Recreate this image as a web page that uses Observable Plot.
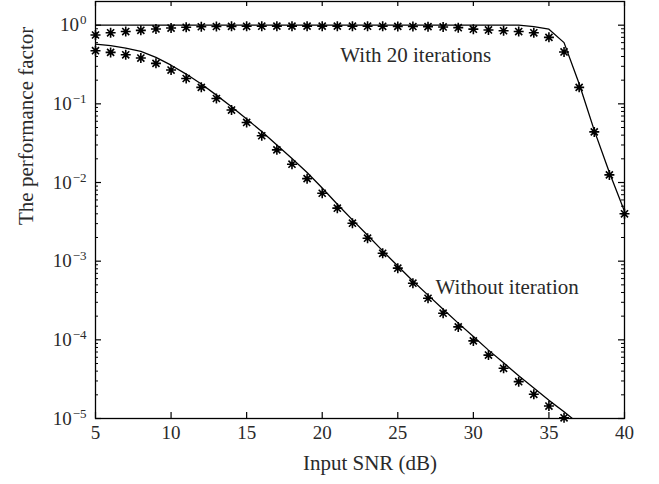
<!DOCTYPE html>
<html>
<head>
<meta charset="utf-8">
<script src="https://cdn.jsdelivr.net/npm/d3@7"></script>
<script src="https://cdn.jsdelivr.net/npm/@observablehq/plot@0.6"></script>
<style>
  html, body { margin: 0; padding: 0; background: #fff; }
  #chart svg { display: block; }
</style>
</head>
<body>
<div id="chart"></div>
<script>
// ---- data ----
const snrMarkersWith = [5,6,7,8,9,10,11,12,13,14,15,16,17,18,19,20,21,22,23,24,25,26,27,28,29,30,31,32,33,34,35,36,37,38,39,40];
const withIterMarkers = [0.75,0.80,0.83,0.86,0.895,0.92,0.94,0.955,0.962,0.966,0.968,0.97,0.972,0.972,0.972,0.972,0.972,0.97,0.97,0.968,0.965,0.962,0.958,0.95,0.93,0.89,0.87,0.85,0.83,0.80,0.70,0.457,0.162,0.044,0.0125,0.0040];

const snrLineWith = [5,10,15,20,25,30,33,34,35,36,37,38,39,40];
const withIterLine = [1.0,1.0,1.0,1.0,1.0,1.0,1.0,0.96,0.89,0.60,0.18,0.046,0.0134,0.0043];

const snrMarkersWithout = [5,6,7,8,9,10,11,12,13,14,15,16,17,18,19,20,21,22,23,24,25,26,27,28,29,30,31,32,33,34,35,36];
const withoutIterMarkers = [0.474,0.451,0.42,0.382,0.327,0.269,0.21,0.162,0.117,0.0834,0.058,0.0393,0.026,0.0171,0.0112,0.0073,0.00472,0.00304,0.00196,0.00126,0.000815,0.000525,0.000338,0.000218,0.000146,0.000097,0.000064,0.0000435,0.0000294,0.0000203,0.0000144,0.0000102];

const snrLineWithout = [5,6,7,8,9,10,11,12,13,14,15,16,17,18,19,20,21,22,23,24,25,26,27,28,29,30,31,32,33,34,35,36,37];
const withoutIterLine = [0.576,0.55,0.51,0.464,0.39,0.31,0.239,0.179,0.129,0.092,0.064,0.0446,0.030,0.0202,0.0134,0.0085,0.0053,0.00335,0.00214,0.00135,0.00087,0.00056,0.00037,0.000245,0.000163,0.00011,0.000074,0.000051,0.000035,0.0000245,0.000017,0.0000122,0.0000085];

const xTicks = [5,10,15,20,25,30,35,40];
const yTicks = [1e-5,1e-4,1e-3,1e-2,1e-1,1];
const yTickExponents = ["−5","−4","−3","−2","−1","0"];
const yMinorTicks = [];
for (const dec of [1e-5,1e-4,1e-3,1e-2,1e-1]) for (let m = 2; m <= 9; m++) yMinorTicks.push(m * dec);

const xLabel = "Input SNR (dB)";
const yLabel = "The performance factor";
const annotations = [
  {x: 21.2, y: 0.343, text: "With 20 iterations"},
  {x: 27.5, y: 3.87e-4, text: "Without iteration"}
];

// ---- build tables ----
const toPts = (xs, ys) => xs.map((x, i) => ({x, y: ys[i]}));
const mWith = toPts(snrMarkersWith, withIterMarkers);
const lWith = toPts(snrLineWith, withIterLine);
const mWithout = toPts(snrMarkersWithout, withoutIterMarkers);
const lWithout = toPts(snrLineWithout, withoutIterLine);

const W = 659, H = 484;
const mL = 95, mR = 35, mT = 1, mB = 66;
const pw = W - mL - mR, ph = H - mT - mB;

const asterisk8 = {
  draw(ctx, size) {
    const r = Math.sqrt(size / Math.PI);
    const d = r * Math.SQRT1_2;
    ctx.moveTo(-r, 0); ctx.lineTo(r, 0);
    ctx.moveTo(0, -r); ctx.lineTo(0, r);
    ctx.moveTo(-d, -d); ctx.lineTo(d, d);
    ctx.moveTo(-d, d); ctx.lineTo(d, -d);
  }
};

const font = "'Liberation Serif', 'Times New Roman', serif";
const textColor = "#2a2a2a";

const chart = Plot.plot({
  width: W, height: H,
  marginLeft: mL, marginRight: mR, marginTop: mT, marginBottom: mB,
  style: {fontFamily: font, fontSize: "19px", color: textColor, background: "#fff"},
  x: {domain: [5, 40]},
  y: {type: "log", domain: [1e-5, 2]},
  marks: [
    Plot.axisX({ticks: xTicks, tickSize: 0, tickPadding: 7, label: null, fontSize: 19, fill: textColor}),
    Plot.axisY({ticks: yTicks, tickSize: 0, tickPadding: 9, label: null, fontSize: 19, fill: textColor,
      tickFormat: d => "10|" + yTickExponents[yTicks.indexOf(d)]}),
    // inward ticks
    Plot.tickX(xTicks, {x: d => d, insetTop: ph - 6, stroke: "black", strokeWidth: 1.2}),
    Plot.tickX(xTicks, {x: d => d, insetBottom: ph - 5, stroke: "black", strokeWidth: 1.2}),
    Plot.tickY(yTicks, {y: d => d, insetRight: pw - 6, stroke: "black", strokeWidth: 1.2}),
    Plot.tickY(yTicks, {y: d => d, insetLeft: pw - 6, stroke: "black", strokeWidth: 1.2}),
    Plot.tickY(yMinorTicks, {y: d => d, insetRight: pw - 3, stroke: "black", strokeWidth: 1}),
    Plot.tickY(yMinorTicks, {y: d => d, insetLeft: pw - 3, stroke: "black", strokeWidth: 1}),
    // curves
    Plot.line(lWith, {x: "x", y: "y", stroke: "black", strokeWidth: 1.3, clip: true}),
    Plot.line(lWithout, {x: "x", y: "y", stroke: "black", strokeWidth: 1.3, clip: true}),
    Plot.dot(mWith, {x: "x", y: "y", symbol: asterisk8, r: 5, stroke: "black", fill: "none", strokeWidth: 1.6}),
    Plot.dot(mWithout, {x: "x", y: "y", symbol: asterisk8, r: 5, stroke: "black", fill: "none", strokeWidth: 1.6}),
    // annotations
    Plot.text(annotations, {x: "x", y: "y", text: "text", textAnchor: "start", lineAnchor: "bottom", fontSize: 21, fill: textColor}),
    // axis titles
    Plot.text([xLabel], {frameAnchor: "bottom", dx: 10, dy: 51, lineAnchor: "bottom", fontSize: 21, fill: textColor}),
    Plot.text([yLabel], {frameAnchor: "left", rotate: -90, dx: -63, dy: 15, lineAnchor: "bottom", fontSize: 21, fill: textColor}),
    Plot.frame({stroke: "black", strokeWidth: 1.3})
  ]
});

// superscript exponents on y tick labels
d3.select(chart).selectAll('g[aria-label="y-axis tick label"] text').each(function() {
  const t = this.textContent;
  if (!t.includes("|")) return;
  const [base, exp] = t.split("|");
  const sel = d3.select(this);
  sel.text(base);
  sel.append("tspan").attr("dy", "-7").attr("dx", "1").attr("font-size", "13").text(exp);
});

document.getElementById("chart").appendChild(chart);
</script>
</body>
</html>
